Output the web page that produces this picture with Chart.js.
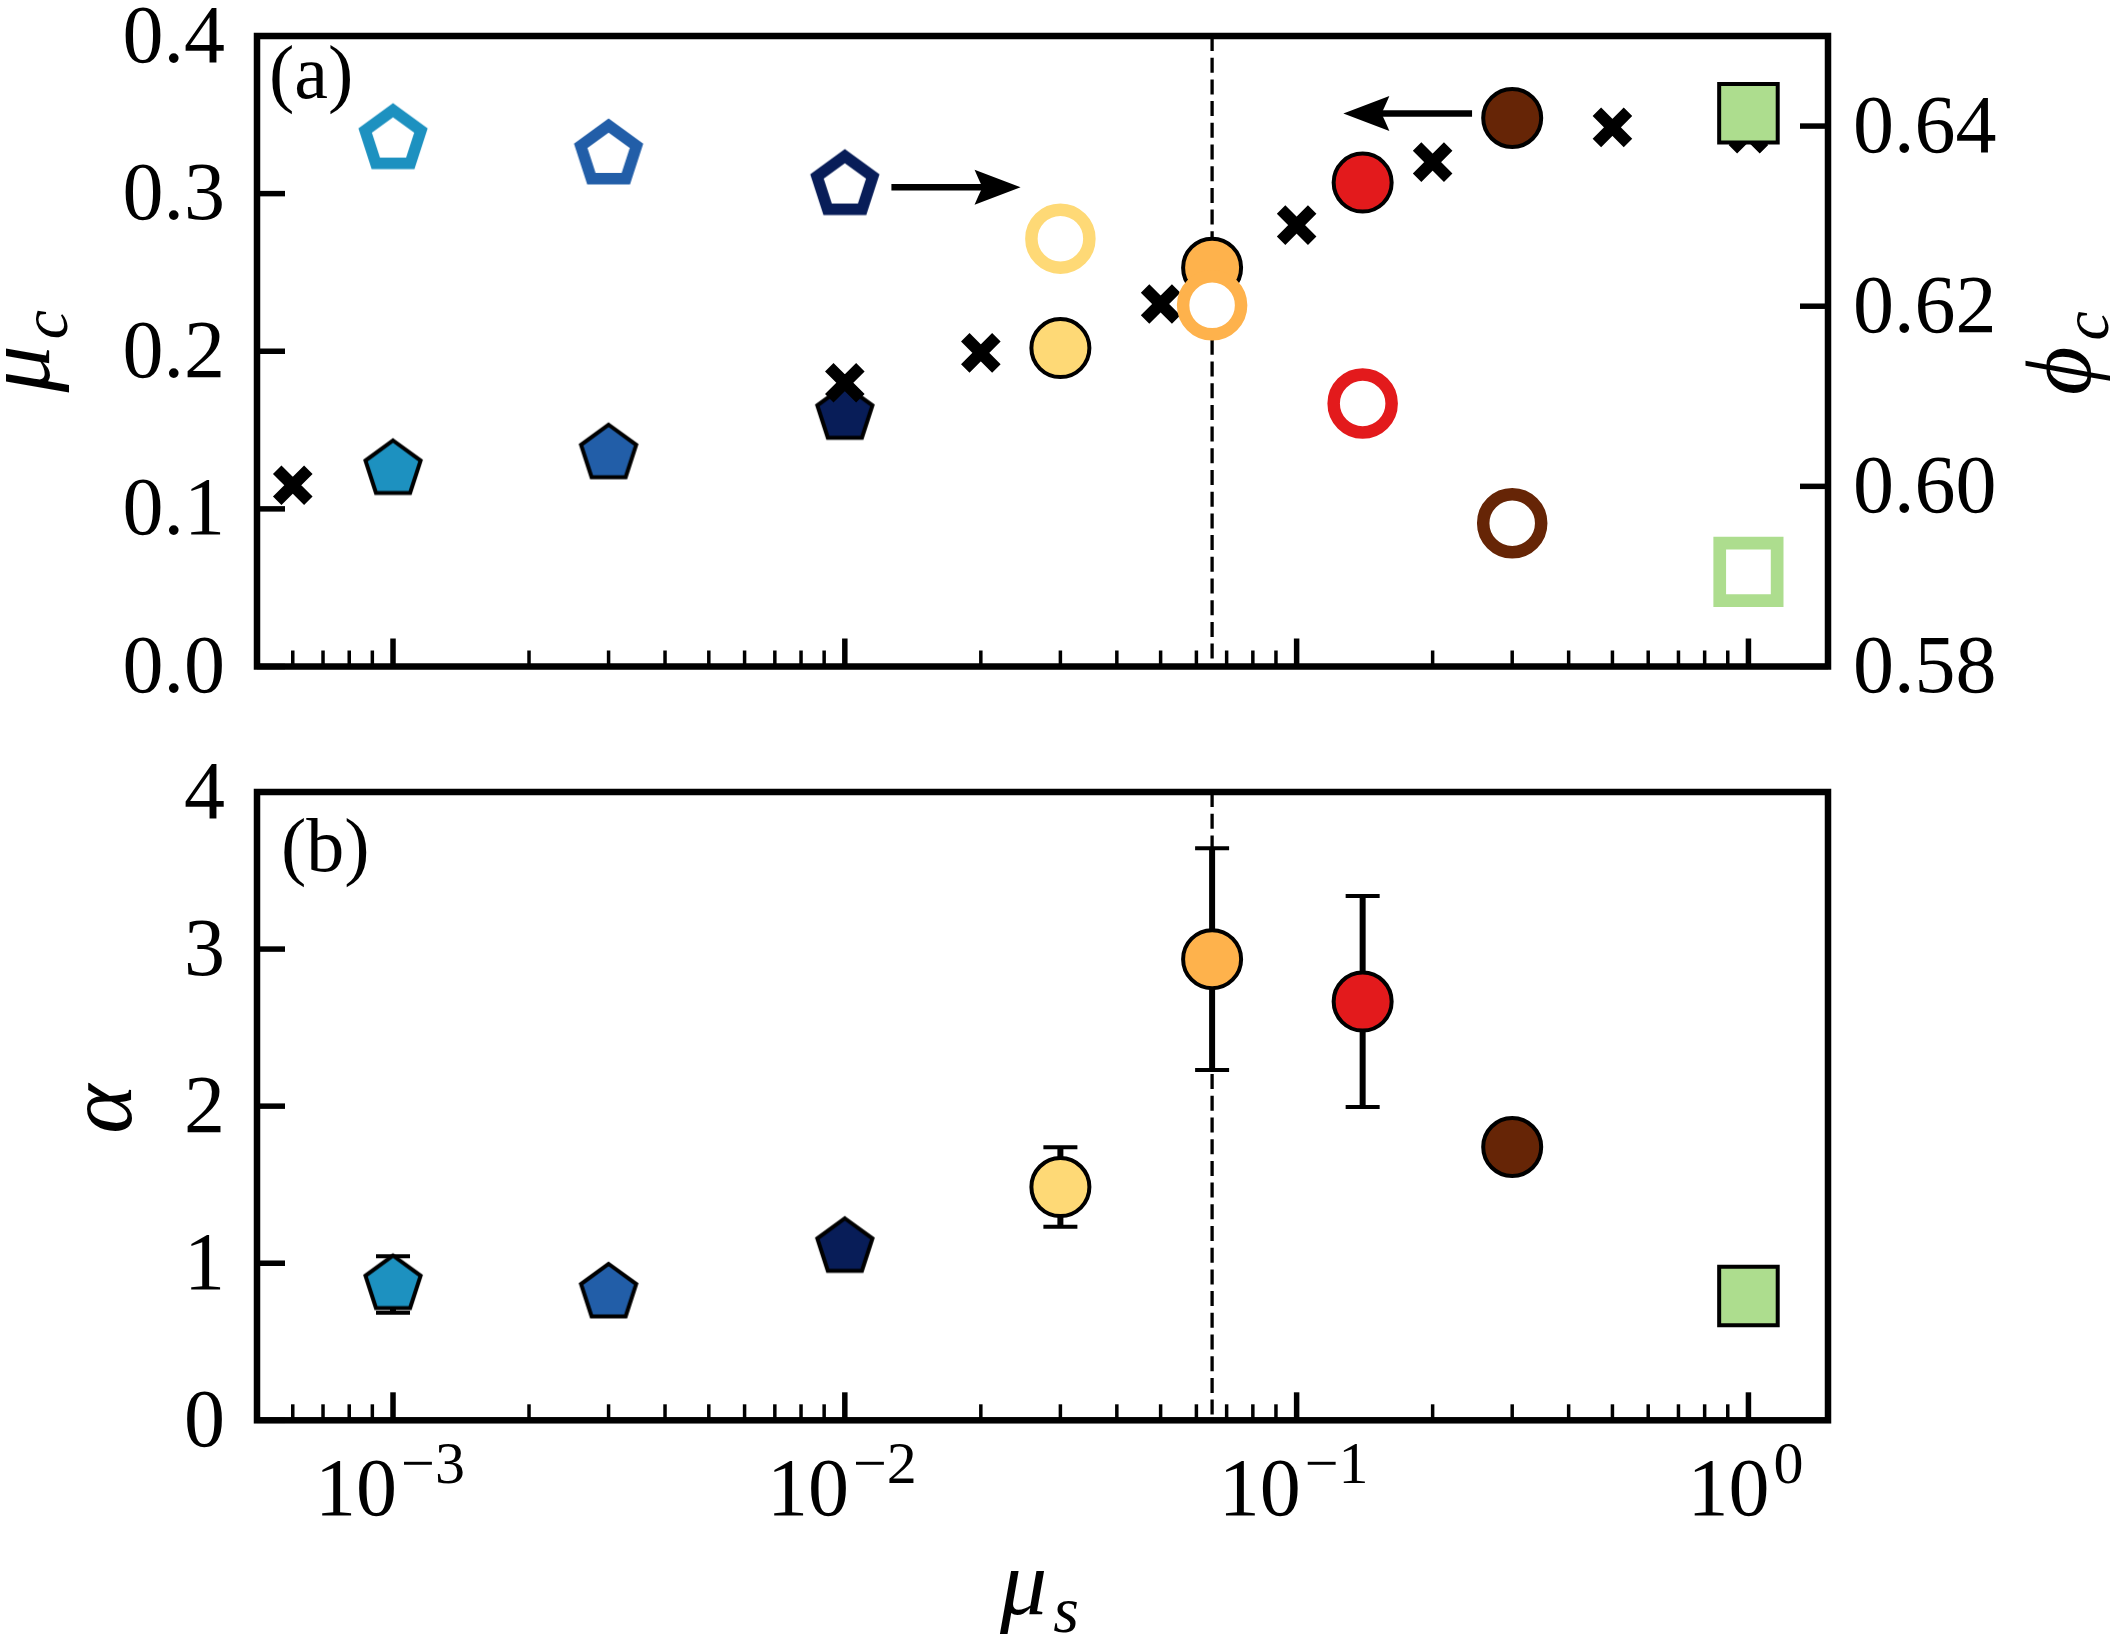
<!DOCTYPE html>
<html>
<head>
<meta charset="utf-8">
<script src="https://cdn.jsdelivr.net/npm/chart.js@4.4.1/dist/chart.umd.min.js"></script>
<style>
html, body { margin: 0; padding: 0; background: #ffffff; }
#wrap { position: relative; width: 2121px; height: 1645px; overflow: hidden; background: #fff; }
.box { position: absolute; left: 0; width: 2121px; }
#topBox { top: 0; height: 740px; }
#botBox { top: 740px; height: 905px; }
canvas { display: block; }
</style>
</head>
<body>
<div id="wrap">
  <div class="box" id="topBox"><canvas id="chartTop"></canvas></div>
  <div class="box" id="botBox"><canvas id="chartBot"></canvas></div>
</div>
<script>
// ---------------- data ----------------
const muS      = [0.001, 0.003, 0.01, 0.03, 0.065, 0.14, 0.3, 1.0];
const muC      = [0.125, 0.135, 0.160, 0.202, 0.253, 0.307, 0.348, 0.351];
const phiC     = [0.6385, 0.6368, 0.6334, 0.6275, 0.6201, 0.6092, 0.5959, 0.5905];
const alpha    = [0.864, 0.811, 1.101, 1.485, 2.936, 2.666, 1.740, 0.791];
const alphaErr = [0.18, null, null, 0.253, 0.706, 0.672, null, null];
const refMuS   = [0.0006, 0.01, 0.02, 0.05, 0.1, 0.2, 0.5, 1.0];
const refMuC   = [0.115, 0.180, 0.199, 0.230, 0.280, 0.320, 0.342, 0.338];
const muSCrit  = 0.065;
const xRange     = [5e-4, 1.5];
const muCRange   = [0, 0.4];
const phiRange   = [0.58, 0.65];
const alphaRange = [0, 4];
const muCTicks   = [0, 0.1, 0.2, 0.3, 0.4];
const phiTicks   = [0.58, 0.60, 0.62, 0.64];
const alphaTicks = [0, 1, 2, 3, 4];
const xTicks     = [1e-3, 1e-2, 1e-1, 1];
const xTickBase  = '10';
const xTickExp   = ['−3', '−2', '−1', '0'];
const arrowPhi = { from: 0.01268, to: 0.02449, at: 0.6332 };  // right axis (phi_c)
const arrowMu  = { from: 0.2445,  to: 0.1269,  at: 0.3508 };  // left axis (mu_c)
const panelLabels = ['(a)', '(b)'];

// ---------------- styles ----------------
const markerShape = ['pentagon', 'pentagon', 'pentagon', 'circle', 'circle', 'circle', 'circle', 'square'];
const markerColor = ['#1d91c0', '#225ea8', '#081d58', '#fed976', '#feb24c', '#e31a1c', '#662506', '#addd8e'];
const SERIF = '"Liberation Serif", "DejaVu Serif", "Times New Roman", serif';
const TICK_FONT = { family: SERIF, size: 82 };
const MAIN_PX = 94, SUB_PX = 66, SUB_SHIFT = 18;
const SPINE_W = 6.5, MAJ_W = 5.5, MIN_W = 3.5, MAJ_L = 28, MIN_L = 16;
const R_MARK = 29, EDGE_W = 4, RING_W = 12.5;

Chart.defaults.font.family = SERIF;
Chart.defaults.color = '#000';

function pentagonImage(fill, stroke, lw, R) {
  const pad = Math.ceil(lw * 2 + 4);
  const size = 2 * (Math.ceil(R) + pad);
  const c = document.createElement('canvas');
  c.width = size; c.height = size;
  const g = c.getContext('2d');
  g.translate(size / 2, size / 2);
  g.beginPath();
  for (let i = 0; i < 5; i++) {
    const a = -Math.PI / 2 + i * 2 * Math.PI / 5;
    const px = R * Math.cos(a), py = R * Math.sin(a);
    if (i === 0) g.moveTo(px, py); else g.lineTo(px, py);
  }
  g.closePath();
  g.fillStyle = fill; g.fill();
  g.lineJoin = 'miter'; g.miterLimit = 10;
  g.lineWidth = lw; g.strokeStyle = stroke; g.stroke();
  return c;
}

function idxOf(shape) { return muS.map((v, i) => i).filter(i => markerShape[i] === shape); }

function markerDataset(label, shape, xs, ys, filled, axisId, order) {
  const ids = idxOf(shape);
  const ds = {
    label: label,
    data: ids.map(i => ({ x: xs[i], y: ys[i] })),
    yAxisID: axisId,
    order: order
  };
  const cols = ids.map(i => markerColor[i]);
  if (shape === 'pentagon') {
    ds.pointStyle = cols.map(c => filled ? pentagonImage(c, '#000', EDGE_W, R_MARK) : pentagonImage('#fff', c, 11.5, 29.3));
    ds.pointRadius = R_MARK;
  } else if (shape === 'circle') {
    ds.pointStyle = 'circle';
    ds.pointRadius = R_MARK;
    ds.pointBorderWidth = filled ? EDGE_W : RING_W;
    ds.pointBackgroundColor = filled ? cols : '#ffffff';
    ds.pointBorderColor = filled ? '#000000' : cols;
  } else {
    ds.pointStyle = 'rect';
    ds.pointRadius = filled ? 41.4 : 40.6;
    ds.pointBorderWidth = filled ? EDGE_W : 12.7;
    ds.pointBackgroundColor = filled ? cols : '#ffffff';
    ds.pointBorderColor = filled ? '#000000' : cols;
  }
  return ds;
}

// ---------------- scales ----------------
function scaleX(height) {
  return {
    type: 'logarithmic', position: 'bottom', min: xRange[0], max: xRange[1],
    grid: { display: false, drawTicks: false }, border: { display: false },
    ticks: { display: false, autoSkip: false, maxRotation: 0, minRotation: 0 },
    afterBuildTicks: s => { s.ticks = xTicks.map(v => ({ value: v, major: true })); },
    afterFit: s => { s.height = height; s.paddingLeft = 0; s.paddingRight = 0; s.paddingTop = 0; s.paddingBottom = 0; }
  };
}
function scaleY(pos, range, ticks, digits, width, pad) {
  return {
    type: 'linear', position: pos, min: range[0], max: range[1],
    grid: { display: false, drawTicks: false }, border: { display: false },
    ticks: { font: TICK_FONT, color: '#000', padding: pad, autoSkip: false, labelOffset: 4,
             callback: v => Number(v).toFixed(digits) },
    afterBuildTicks: s => { s.ticks = ticks.map(v => ({ value: v })); },
    afterFit: s => { s.width = width; s.paddingTop = 0; s.paddingBottom = 0; s.paddingLeft = 0; s.paddingRight = 0; }
  };
}

// ---------------- drawing helpers ----------------
function drawFrame(chart, yIds) {
  const { ctx, chartArea: a, scales } = chart;
  ctx.save();
  ctx.strokeStyle = '#000'; ctx.lineCap = 'butt';
  const xs = scales.x;
  const lo = Math.floor(Math.log10(xs.min)), hi = Math.ceil(Math.log10(xs.max));
  for (let e = lo; e <= hi; e++) {
    for (let m = 1; m < 10; m++) {
      const v = m * Math.pow(10, e);
      if (v < xs.min * 0.9999 || v > xs.max * 1.0001) continue;
      const px = xs.getPixelForValue(v);
      const maj = (m === 1);
      ctx.lineWidth = maj ? MAJ_W : MIN_W;
      ctx.beginPath(); ctx.moveTo(px, a.bottom); ctx.lineTo(px, a.bottom - (maj ? MAJ_L : MIN_L)); ctx.stroke();
    }
  }
  yIds.forEach(id => {
    const s = scales[id];
    const left = s.position === 'left';
    s.ticks.forEach(t => {
      const py = s.getPixelForValue(t.value);
      const x0 = left ? a.left : a.right;
      ctx.lineWidth = MAJ_W;
      ctx.beginPath(); ctx.moveTo(x0, py); ctx.lineTo(x0 + (left ? MAJ_L : -MAJ_L), py); ctx.stroke();
    });
  });
  ctx.lineWidth = SPINE_W; ctx.lineJoin = 'miter';
  ctx.strokeRect(a.left, a.top, a.right - a.left, a.bottom - a.top);
  ctx.restore();
}

function drawXTickLabels(chart) {
  const { ctx, chartArea: a, scales } = chart;
  const xs = scales.x;
  ctx.save();
  ctx.fillStyle = '#000'; ctx.textBaseline = 'alphabetic'; ctx.textAlign = 'left';
  const fB = '82px ' + SERIF, fE = '60px ' + SERIF;
  xs.ticks.forEach(t => {
    const k = xTicks.findIndex(v => Math.abs(Math.log10(v) - Math.log10(t.value)) < 1e-6);
    if (k < 0) return;
    const px = xs.getPixelForValue(t.value);
    ctx.font = fB; const wb = ctx.measureText(xTickBase).width;
    ctx.font = fE; const we = ctx.measureText(xTickExp[k]).width;
    const gap = 4;
    const x0 = px - (wb + gap + we) / 2 - 3;
    const yb = a.bottom + 95;
    ctx.font = fB; ctx.fillText(xTickBase, x0, yb);
    ctx.font = fE; ctx.fillText(xTickExp[k], x0 + wb + gap, yb - 32);
  });
  ctx.restore();
}

function drawCrit(chart) {
  const { ctx, chartArea: a, scales } = chart;
  const px = scales.x.getPixelForValue(muSCrit);
  ctx.save();
  ctx.strokeStyle = '#000'; ctx.lineWidth = 3.3; ctx.setLineDash([15, 6.7]);
  ctx.beginPath(); ctx.moveTo(px, a.top); ctx.lineTo(px, a.bottom); ctx.stroke();
  ctx.restore();
}

function drawMathLabel(ctx, x, y, rot, main, sub) {
  ctx.save();
  ctx.translate(x, y); ctx.rotate(rot);
  ctx.fillStyle = '#000'; ctx.textBaseline = 'alphabetic'; ctx.textAlign = 'left';
  const fMain = 'italic ' + MAIN_PX + 'px ' + SERIF;
  const fSub = 'italic ' + SUB_PX + 'px ' + SERIF;
  ctx.font = fMain; const w1 = ctx.measureText(main).width;
  ctx.font = fSub; const w2 = sub ? ctx.measureText(sub).width : 0;
  const gap = sub ? 6 : 0;
  const x0 = -(w1 + gap + w2) / 2;
  ctx.font = fMain; ctx.fillText(main, x0, 0);
  if (sub) { ctx.font = fSub; ctx.fillText(sub, x0 + w1 + gap, SUB_SHIFT); }
  ctx.restore();
}

function drawPanelLabel(ctx, text, x, y) {
  ctx.save();
  ctx.fillStyle = '#000'; ctx.font = '76px ' + SERIF;
  ctx.textBaseline = 'alphabetic'; ctx.textAlign = 'left';
  ctx.fillText(text, x, y);
  ctx.restore();
}

function drawArrow(ctx, x1, x2, y) {
  const dir = Math.sign(x2 - x1);
  const L = 46, H = 17.5, notch = 8;
  ctx.save();
  ctx.strokeStyle = '#000'; ctx.fillStyle = '#000'; ctx.lineWidth = 6.5; ctx.lineCap = 'butt';
  ctx.beginPath(); ctx.moveTo(x1, y); ctx.lineTo(x2 - dir * (L - notch - 2), y); ctx.stroke();
  ctx.beginPath();
  ctx.moveTo(x2, y);
  ctx.lineTo(x2 - dir * L, y - H);
  ctx.quadraticCurveTo(x2 - dir * (L - notch * 0.6), y - H * 0.35, x2 - dir * (L - notch), y);
  ctx.quadraticCurveTo(x2 - dir * (L - notch * 0.6), y + H * 0.35, x2 - dir * L, y + H);
  ctx.closePath(); ctx.fill();
  ctx.restore();
}

function drawErrorBars(chart) {
  const { ctx, scales } = chart;
  const xs = scales.x, ys = scales.y;
  ctx.save();
  ctx.strokeStyle = '#000'; ctx.lineCap = 'butt';
  muS.forEach((m, i) => {
    const e = alphaErr[i];
    if (e === null || e === undefined) return;
    const px = xs.getPixelForValue(m);
    const yLo = ys.getPixelForValue(alpha[i] - e), yHi = ys.getPixelForValue(alpha[i] + e);
    ctx.lineWidth = 6;
    ctx.beginPath(); ctx.moveTo(px, yLo); ctx.lineTo(px, yHi); ctx.stroke();
    ctx.lineWidth = 4;
    ctx.beginPath();
    ctx.moveTo(px - 17, yLo); ctx.lineTo(px + 17, yLo);
    ctx.moveTo(px - 17, yHi); ctx.lineTo(px + 17, yHi);
    ctx.stroke();
  });
  ctx.restore();
}

// ---------------- plugins ----------------
const decorTop = {
  id: 'decorTop',
  beforeDatasetsDraw(chart) { drawCrit(chart); },
  afterDatasetsDraw(chart) {
    const { ctx, scales } = chart;
    drawArrow(ctx, scales.x.getPixelForValue(arrowPhi.from), scales.x.getPixelForValue(arrowPhi.to), scales.y2.getPixelForValue(arrowPhi.at));
    drawArrow(ctx, scales.x.getPixelForValue(arrowMu.from), scales.x.getPixelForValue(arrowMu.to), scales.y.getPixelForValue(arrowMu.at));
  },
  afterDraw(chart) {
    const { ctx, chartArea: a } = chart;
    drawFrame(chart, ['y', 'y2']);
    const cy = (a.top + a.bottom) / 2;
    drawMathLabel(ctx, a.left - 208, cy, -Math.PI / 2, 'μ', 'c');
    drawMathLabel(ctx, a.right + 262, cy + 2, -Math.PI / 2, 'ϕ', 'c');
    drawPanelLabel(ctx, panelLabels[0], a.left + 12, a.top + 62);
  }
};
const decorBot = {
  id: 'decorBot',
  beforeDatasetsDraw(chart) { drawCrit(chart); drawErrorBars(chart); },
  afterDraw(chart) {
    const { ctx, chartArea: a } = chart;
    drawFrame(chart, ['y']);
    drawXTickLabels(chart);
    const cy = (a.top + a.bottom) / 2;
    drawMathLabel(ctx, a.left - 126, cy + 3, -Math.PI / 2, 'α', '');
    drawMathLabel(ctx, (a.left + a.right) / 2 - 3, a.bottom + 194, 0, 'μ', 's');
    drawPanelLabel(ctx, panelLabels[1], a.left + 24, a.top + 79);
  }
};

// ---------------- charts ----------------
const commonOpts = {
  responsive: true, maintainAspectRatio: false, animation: false, events: [],
  plugins: { legend: { display: false }, tooltip: { enabled: false } }
};

new Chart(document.getElementById('chartTop'), {
  type: 'scatter',
  data: {
    datasets: [
      markerDataset('φc (open squares)', 'square', muS, phiC, false, 'y2', 1),
      markerDataset('μc (filled squares)', 'square', muS, muC, true, 'y', 2),
      markerDataset('φc (open circles)', 'circle', muS, phiC, false, 'y2', 3),
      markerDataset('μc (filled circles)', 'circle', muS, muC, true, 'y', 4),
      {
        label: 'μc reference', data: refMuS.map((x, i) => ({ x: x, y: refMuC[i] })), yAxisID: 'y', order: 5,
        pointStyle: 'crossRot', pointRadius: 22, pointBorderWidth: 12, pointBorderColor: '#000', pointBackgroundColor: '#000'
      },
      markerDataset('μc (filled pentagons)', 'pentagon', muS, muC, true, 'y', 6),
      markerDataset('φc (open pentagons)', 'pentagon', muS, phiC, false, 'y2', 7)
    ]
  },
  options: Object.assign({}, commonOpts, {
    layout: { autoPadding: false, padding: { top: 36, bottom: 73.5, left: 0, right: 0 } },
    scales: {
      x: scaleX(0),
      y: scaleY('left', muCRange, muCTicks, 1, 257, 32),
      y2: scaleY('right', phiRange, phiTicks, 2, 293, 25)
    }
  }),
  plugins: [decorTop]
});

new Chart(document.getElementById('chartBot'), {
  type: 'scatter',
  data: {
    datasets: [
      markerDataset('α (squares)', 'square', muS, alpha, true, 'y', 1),
      markerDataset('α (circles)', 'circle', muS, alpha, true, 'y', 2),
      markerDataset('α (pentagons)', 'pentagon', muS, alpha, true, 'y', 3)
    ]
  },
  options: Object.assign({}, commonOpts, {
    layout: { autoPadding: false, padding: { top: 52, bottom: 0, left: 0, right: 293 } },
    scales: {
      x: scaleX(224.7),
      y: scaleY('left', alphaRange, alphaTicks, 0, 257, 32)
    }
  }),
  plugins: [decorBot]
});
</script>
</body>
</html>
